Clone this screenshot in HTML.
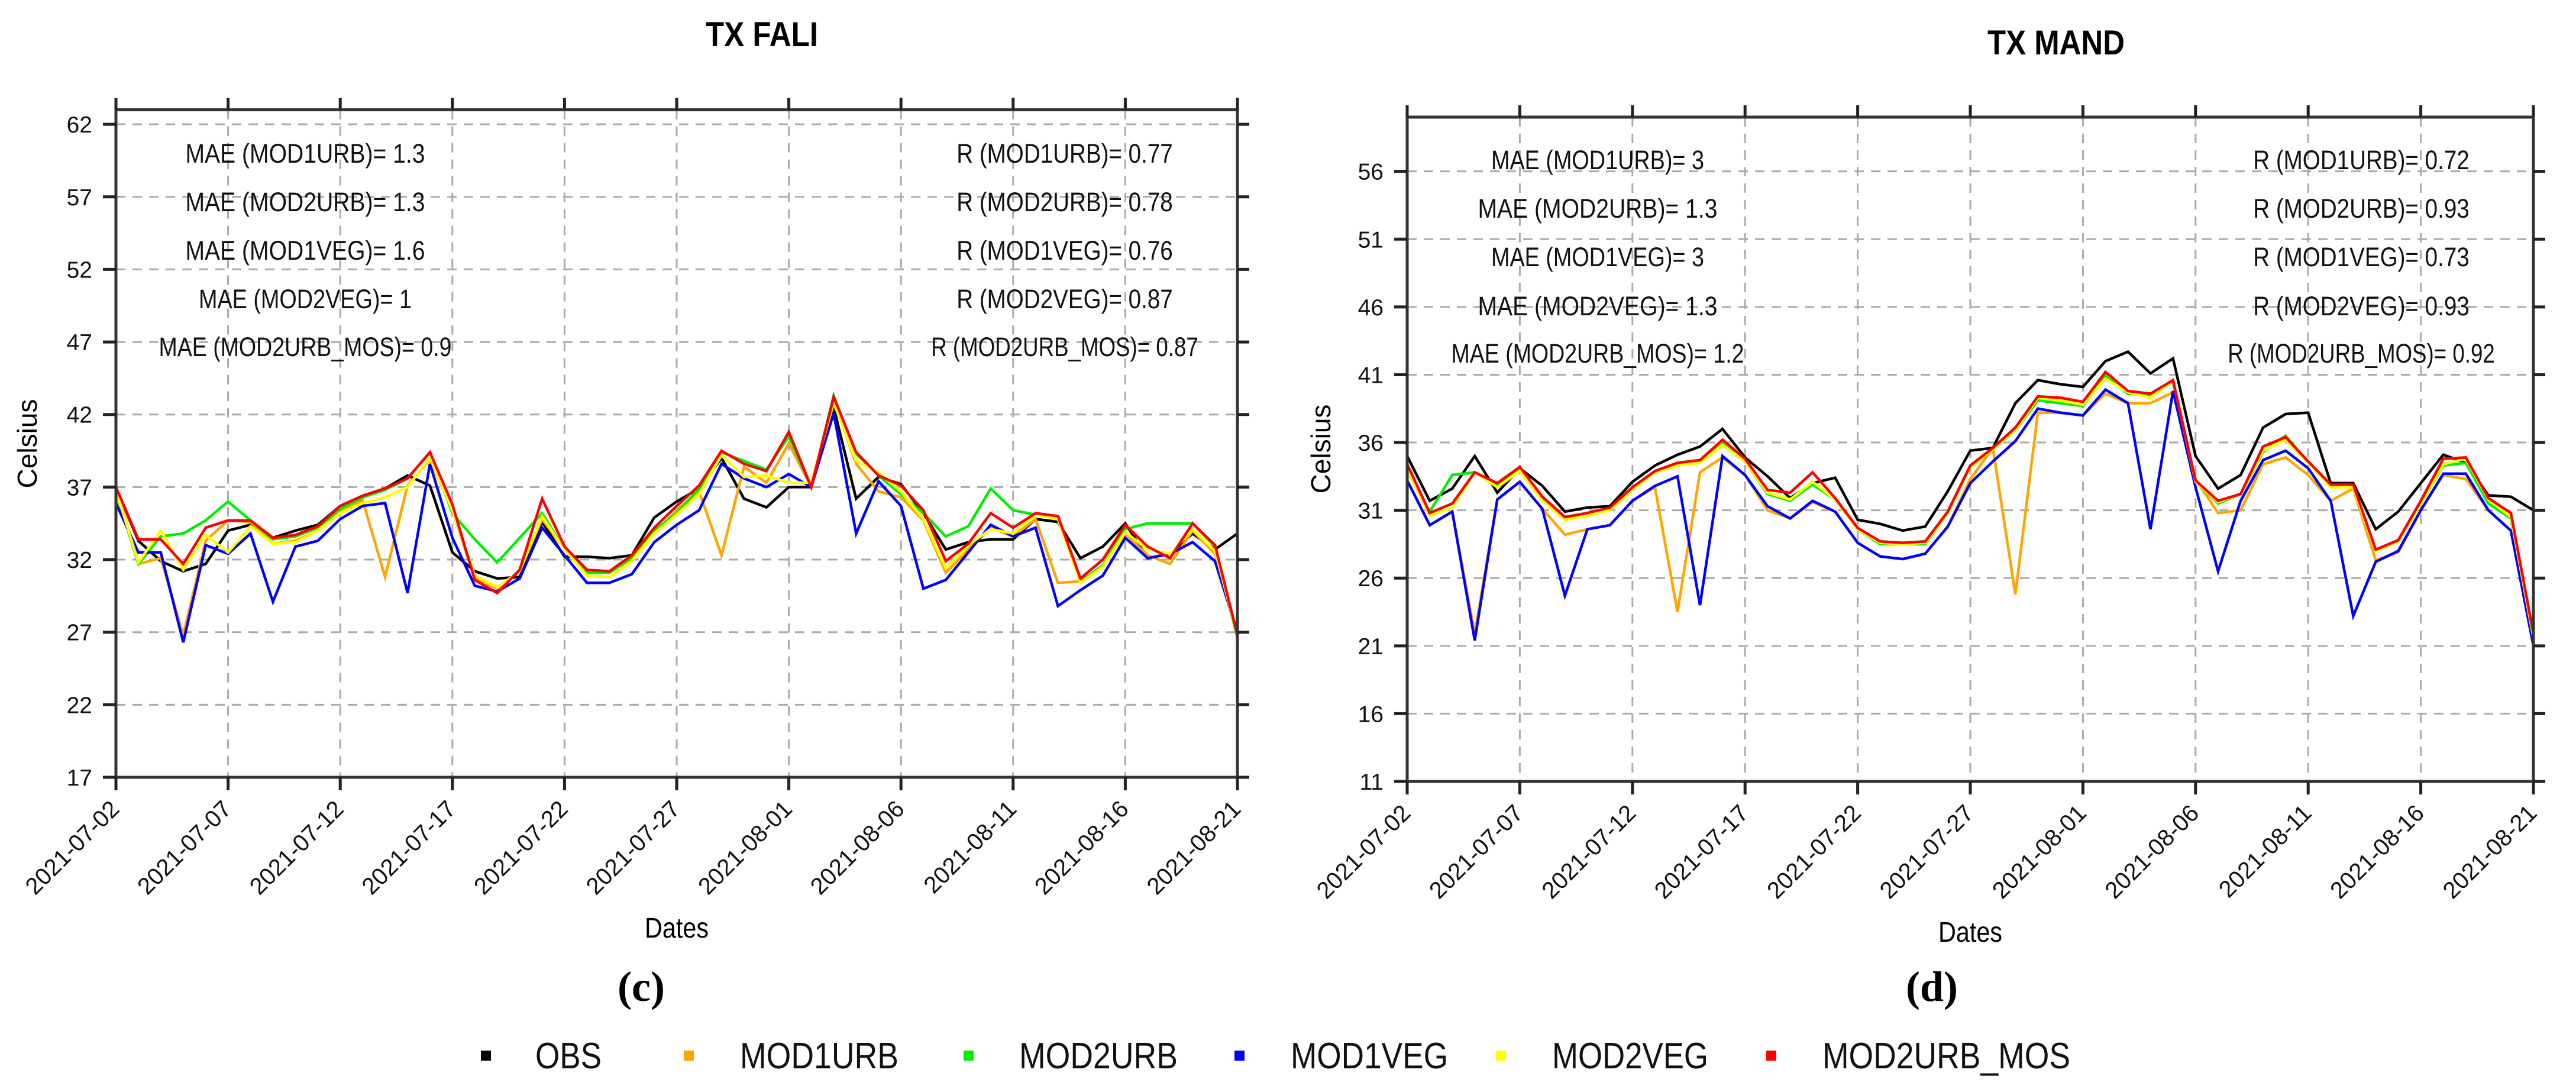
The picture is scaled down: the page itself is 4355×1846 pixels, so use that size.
<!DOCTYPE html>
<html><head><meta charset="utf-8"><title>TX FALI / TX MAND</title>
<style>html,body{margin:0;padding:0;background:#fff}svg{display:block}text{font-family:"Liberation Sans",Arial,sans-serif}</style>
</head><body>
<svg id="fig" xmlns="http://www.w3.org/2000/svg" width="4355" height="1846" viewBox="0 0 4355 1846">
<rect x="0" y="0" width="4355" height="1846" fill="#fff"/>
</svg>
<script>
const dateLabels = ["2021-07-02","2021-07-07","2021-07-12","2021-07-17","2021-07-22","2021-07-27","2021-08-01","2021-08-06","2021-08-11","2021-08-16","2021-08-21"];
const seriesNames = ["OBS","MOD1URB","MOD2URB","MOD1VEG","MOD2VEG","MOD2URB_MOS"];
const seriesColors = ["#000000","#ffa500","#00ee00","#0000ff","#ffff00","#ff0000"];
const faliTicks = [17,22,27,32,37,42,47,52,57,62];
const mandTicks = [11,16,21,26,31,36,41,46,51,56];

const faliOBS = [37,33.3,31.9,31.2,31.7,34.0,34.4,33.5,34.0,34.4,35.7,36.4,36.9,37.8,37.1,32.5,31.2,30.7,30.8,34.6,32.2,32.2,32.1,32.3,34.9,36.0,36.9,39.0,36.2,35.6,37.0,37.0,42.5,36.2,37.7,37.2,35.2,32.7,33.2,33.4,33.4,34.8,34.6,32.1,32.9,34.5,32.1,32.4,33.8,32.7,33.8];
const faliMOD1URB = [37,31.7,32.1,26.8,33.3,34.7,34.6,33.1,33.3,34.0,35.4,36.1,30.8,37.1,38.9,35.4,30.7,30.0,31.2,34.8,32.7,30.9,30.8,31.9,33.8,35.4,36.7,32.3,38.4,37.3,40.0,37.0,43.0,38.6,36.7,36.3,34.7,31.1,32.7,34.2,33.6,34.8,30.4,30.5,31.6,33.8,32.3,31.7,34.0,32.4,26.8];
const faliMOD2URB = [36.7,31.7,33.6,33.8,34.7,36.0,34.7,33.4,33.6,34.2,35.5,36.3,36.8,37.6,39.4,35.2,33.4,31.8,33.5,35.2,32.7,31.1,31.1,32.1,34.0,35.2,36.9,39.4,38.8,38.2,40.5,37.0,43.3,39.3,37.8,36.5,35.2,33.6,34.3,36.9,35.4,35.1,35.0,30.5,31.6,34.1,34.5,34.5,34.5,32.9,26.6];
const faliMOD1VEG = [35.9,32.5,32.5,26.3,33.0,32.4,33.8,29.1,32.9,33.3,34.8,35.7,35.9,29.7,38.6,33.5,30.2,29.8,30.7,34.2,32.3,30.4,30.4,31.0,33.2,34.4,35.4,38.6,37.6,37.0,37.9,37.0,42.1,33.8,37.4,35.7,30.0,30.6,32.5,34.4,33.6,34.2,28.8,29.9,30.9,33.5,32.1,32.4,33.2,31.9,27.0];
const faliMOD2VEG = [36.8,31.8,34.0,31.3,33.7,32.5,34.3,33.1,33.2,34.0,35.2,35.9,36.3,37.0,39.0,35.4,30.9,30.1,31.2,35.0,32.7,30.9,30.8,31.9,33.8,35.1,36.5,39.2,37.7,37.8,37.3,37.3,42.8,38.8,38.0,36.7,34.8,31.4,33.0,34.1,33.8,35.1,34.8,30.4,31.5,33.9,32.7,32.4,34.1,32.6,26.8];
const faliMOD2URB_MOS = [37,33.4,33.4,31.7,34.2,34.7,34.7,33.5,33.7,34.3,35.7,36.4,36.9,37.6,39.4,35.8,30.6,29.7,31.3,36.2,32.9,31.3,31.2,32.3,34.2,35.7,37.1,39.5,38.6,38.1,40.8,37.0,43.2,39.4,37.8,37.1,35.4,31.9,33.1,35.2,34.2,35.2,35.0,30.7,32.0,34.4,32.9,32.1,34.5,33.0,26.8];

const mandOBS = [35.0,31.7,32.6,35.0,32.3,34.1,32.8,30.9,31.2,31.3,33.1,34.3,35.1,35.7,37.0,34.9,33.5,31.9,33.0,33.4,30.3,30.0,29.5,29.8,32.4,35.4,35.6,38.9,40.6,40.3,40.1,42.0,42.7,41.1,42.2,35.0,32.6,33.6,37.1,38.1,38.2,33.0,33.0,29.6,30.9,33.0,35.1,34.5,32.1,32.0,31.0];
const mandMOD1URB = [33.2,29.9,30.9,21.9,31.8,33.1,31.1,29.2,29.6,29.9,31.7,32.7,23.5,33.8,34.9,33.6,31.0,30.4,31.6,30.9,28.6,27.6,27.4,27.8,29.8,33.3,35.6,24.8,38.2,38.2,38.0,39.6,38.9,38.9,39.7,33.3,30.8,31.0,34.4,34.9,33.6,31.7,32.6,27.3,27.9,31.0,33.6,33.3,31.0,29.5,21.3];
const mandMOD2URB = [33.9,30.9,33.6,33.8,32.9,34.1,31.9,30.3,30.6,31.0,32.7,33.8,34.3,34.5,35.9,34.6,32.2,31.7,32.9,31.8,29.6,28.5,28.5,28.5,30.8,34.2,35.5,36.9,39.1,38.9,38.7,40.9,39.6,39.5,40.5,33.1,31.5,32.2,35.3,36.5,34.5,32.8,32.7,28.0,28.7,31.5,34.3,34.5,31.5,30.4,21.1];
const mandMOD1VEG = [33.2,29.9,30.9,21.4,31.8,33.1,31.1,24.7,29.6,29.9,31.7,32.8,33.5,24.0,35.0,33.6,31.3,30.4,31.7,30.9,28.6,27.6,27.4,27.8,29.8,33.0,34.6,36.1,38.5,38.2,38.0,39.9,38.9,29.6,39.8,32.7,26.5,31.7,34.7,35.4,34.1,31.7,23.2,27.2,28.0,31.0,33.7,33.7,31.0,29.5,21.0];
const mandMOD2VEG = [34.0,30.6,31.2,33.8,32.7,33.9,31.7,30.3,30.6,31.0,32.5,33.8,34.3,34.5,35.8,34.6,32.3,31.8,33.1,31.8,29.6,28.6,28.5,28.6,30.8,34.2,35.5,36.9,39.3,39.1,38.8,40.7,39.7,39.3,40.6,33.1,31.6,32.2,35.4,36.2,34.5,32.7,32.7,28.0,28.7,31.5,34.4,34.8,31.8,30.5,21.6];
const mandMOD2URB_MOS = [34.4,30.8,31.5,33.8,33.0,34.2,32.0,30.5,30.8,31.2,32.7,33.9,34.5,34.7,36.2,34.8,32.5,32.3,33.8,31.9,29.7,28.7,28.6,28.7,30.9,34.3,35.6,37.1,39.4,39.3,39.0,41.2,39.8,39.6,40.6,33.2,31.7,32.2,35.7,36.4,34.6,32.9,32.9,28.1,28.8,31.7,34.8,34.9,31.9,30.8,21.9];

const faliSeries = [faliOBS,faliMOD1URB,faliMOD2URB,faliMOD1VEG,faliMOD2VEG,faliMOD2URB_MOS];
const mandSeries = [mandOBS,mandMOD1URB,mandMOD2URB,mandMOD1VEG,mandMOD2VEG,mandMOD2URB_MOS];
const faliMAE = ["MAE (MOD1URB)= 1.3","MAE (MOD2URB)= 1.3","MAE (MOD1VEG)= 1.6","MAE (MOD2VEG)= 1","MAE (MOD2URB_MOS)= 0.9"];
const faliR = ["R (MOD1URB)= 0.77","R (MOD2URB)= 0.78","R (MOD1VEG)= 0.76","R (MOD2VEG)= 0.87","R (MOD2URB_MOS)= 0.87"];
const mandMAE = ["MAE (MOD1URB)= 3","MAE (MOD2URB)= 1.3","MAE (MOD1VEG)= 3","MAE (MOD2VEG)= 1.3","MAE (MOD2URB_MOS)= 1.2"];
const mandR = ["R (MOD1URB)= 0.72","R (MOD2URB)= 0.93","R (MOD1VEG)= 0.73","R (MOD2VEG)= 0.93","R (MOD2URB_MOS)= 0.92"];

const NS = "http://www.w3.org/2000/svg";
const svg = document.getElementById("fig");
function mk(tag, attrs, parent, txt) {
  const e = document.createElementNS(NS, tag);
  for (const k in attrs) e.setAttribute(k, attrs[k]);
  if (txt !== undefined) e.textContent = txt;
  (parent || svg).appendChild(e);
  return e;
}

function drawChart(cfg) {
  const g = mk("g", {});
  
  
  const nDays = cfg.series[0].length - 1;
  const xs = d => cfg.x0 + (cfg.x1 - cfg.x0) * d / nDays;
  const ys = v => cfg.yb - (v - cfg.ymin) * (cfg.yb - cfg.yt) / (cfg.ymax - cfg.ymin);
  cfg.ticks.forEach(t => {
    if (t === cfg.ymin) return;
    const l = mk("line", {x1: cfg.x0, x2: cfg.x1, y1: ys(t), y2: ys(t), stroke: "#aaa", "stroke-width": 3, "stroke-dasharray": "16 12"}, g);
    
    
  });
  dateLabels.forEach((lab, i) => {
    const x = xs(i * 5);
    if (i > 0 && i < dateLabels.length - 1) {
      const l = mk("line", {x1: x, x2: x, y1: cfg.yt, y2: cfg.yb, stroke: "#aaa", "stroke-width": 3, "stroke-dasharray": "16 12"}, g);
      
      
    }
  });
  cfg.series.forEach((arr, si) => {
    const pts = arr.map((v, d) => xs(d).toFixed(1) + "," + ys(v).toFixed(1)).join(" ");
    const p = mk("polyline", {points: pts, fill: "none", stroke: seriesColors[si], "stroke-width": 4.5, "stroke-linejoin": "miter"}, g);
    
    
  });
  const fr = mk("rect", {x: cfg.x0, y: cfg.yt, width: cfg.x1 - cfg.x0, height: cfg.yb - cfg.yt, fill: "none", stroke: "#333", "stroke-width": 5}, g);
  
  
  cfg.ticks.forEach(t => {
    const y = ys(t);
    mk("line", {x1: cfg.x0 - 22, x2: cfg.x0, y1: y, y2: y, stroke: "#222", "stroke-width": 5}, g);
    mk("line", {x1: cfg.x1, x2: cfg.x1 + 20, y1: y, y2: y, stroke: "#222", "stroke-width": 5}, g);
    const tl = mk("text", {x: cfg.x0 - 40, y: y + 14, "font-size": 39, "text-anchor": "end", fill: "#111"}, g, String(t));
    
    
  });
  dateLabels.forEach((lab, i) => {
    const x = xs(i * 5);
    mk("line", {x1: x, x2: x, y1: cfg.yt - 20, y2: cfg.yt, stroke: "#222", "stroke-width": 5}, g);
    mk("line", {x1: x, x2: x, y1: cfg.yb, y2: cfg.yb + 22, stroke: "#222", "stroke-width": 5}, g);
    const tx = x + 8, ty = cfg.yb + 56;
    const tl = mk("text", {x: tx, y: ty, "font-size": 40, "text-anchor": "end", fill: "#111", transform: "rotate(-45 " + tx + " " + ty + ")"}, g, lab);
    
    
  });
  cfg.mae.forEach((s, i) => {
    const t = mk("text", {x: cfg.maeX, y: cfg.annY[i], "font-size": 45, "text-anchor": "middle", textLength: s.length * 22.5, lengthAdjust: "spacingAndGlyphs", fill: "#111"}, g, s);
    
    
  });
  cfg.r.forEach((s, i) => {
    const t = mk("text", {x: cfg.rX, y: cfg.annY[i], "font-size": 45, "text-anchor": "middle", textLength: s.length * 21.5, lengthAdjust: "spacingAndGlyphs", fill: "#111"}, g, s);
    
    
  });
  const ti = mk("text", {x: cfg.titleX, y: cfg.titleY, "font-size": 58, "font-weight": "bold", "text-anchor": "middle", textLength: cfg.titleW, lengthAdjust: "spacingAndGlyphs"}, g, cfg.title);
  
  
  const yl = mk("text", {x: cfg.ylabX, y: cfg.ylabY, "font-size": 46, "text-anchor": "middle", transform: "rotate(-90 " + cfg.ylabX + " " + cfg.ylabY + ")"}, g, "Celsius");
  
  
  const xl = mk("text", {x: (cfg.x0 + cfg.x1) / 2, y: cfg.xlabY, "font-size": 48, "text-anchor": "middle", textLength: 108, lengthAdjust: "spacingAndGlyphs"}, g, "Dates");
  
  
  const pl = mk("text", {x: cfg.panelX, y: 1692, "font-size": 72, "text-anchor": "middle", style: "font-family:'Liberation Serif',serif;font-weight:bold"}, g, cfg.panel);
  
  
}

drawChart({name: "chart-tx-fali", title: "TX FALI", titleX: 1288, titleY: 78, titleW: 190, series: faliSeries, ticks: faliTicks,
  x0: 196, x1: 2092, yt: 185.6, yb: 1314, ymin: 17, ymax: 63, mae: faliMAE, r: faliR, maeX: 516, rX: 1800,
  annY: [275, 357, 439, 521, 602], ylabX: 62, ylabY: 750, xlabY: 1585, panel: "(c)", panelX: 1084});
drawChart({name: "chart-tx-mand", title: "TX MAND", titleX: 3476, titleY: 92, titleW: 232, series: mandSeries, ticks: mandTicks,
  x0: 2379, x1: 4283, yt: 198, yb: 1321, ymin: 11, ymax: 60, mae: mandMAE, r: mandR, maeX: 2701, rX: 3992,
  annY: [286, 368, 450, 533, 613], ylabX: 2249, ylabY: 759, xlabY: 1592, panel: "(d)", panelX: 3266});

const legMarkX = [821, 1164, 1637, 2095, 2537, 2994];
const legTextX = [905, 1251, 1723, 2182, 2624, 3081];
const legTextW = [112, 268, 268, 266, 264, 419];
const lg = mk("g", {});


seriesNames.forEach((n, i) => {
  const m = mk("rect", {x: legMarkX[i] - 8, y: 1776, width: 17, height: 17, fill: seriesColors[i]}, lg);
  
  
  const t = mk("text", {x: legTextX[i], y: 1806, "font-size": 62, textLength: legTextW[i], lengthAdjust: "spacingAndGlyphs", fill: "#111"}, lg, n);
  
  
});
</script>
</body></html>
